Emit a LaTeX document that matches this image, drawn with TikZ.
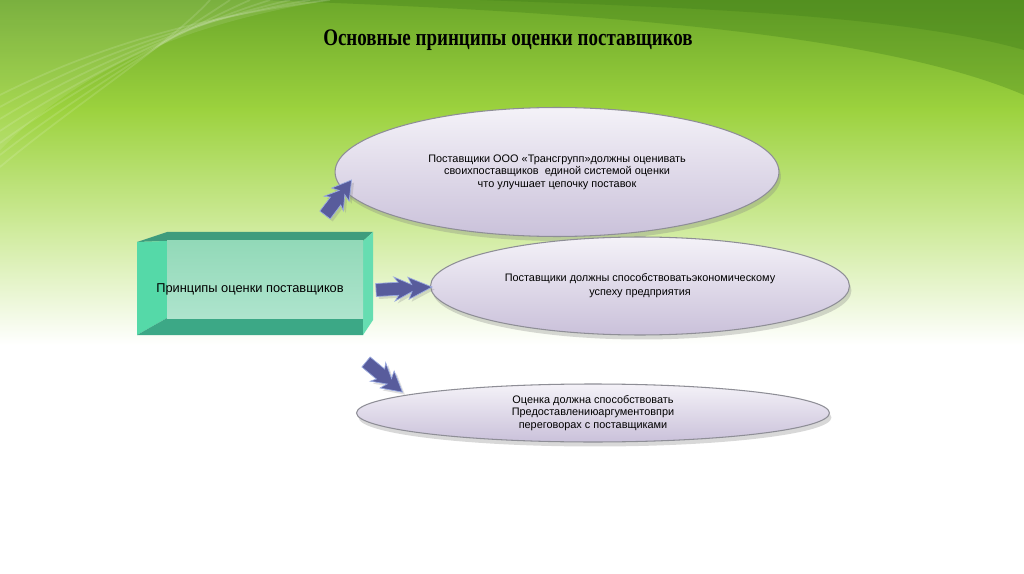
\documentclass[tikz,border=0pt]{standalone}
\usepackage{fontspec}
\setmainfont{Liberation Sans}
\newfontfamily\headfont{Liberation Serif}
\usetikzlibrary{positioning,calc,shapes.geometric,shadows}
\definecolor{trBgDark}{HTML}{3D7A18}
\definecolor{trBgDeep}{HTML}{6CA82A}
\definecolor{trBgLime}{HTML}{9CD23E}
\definecolor{trBgPale}{HTML}{CDEA98}
\definecolor{trBevTop}{HTML}{3E9C7D}
\definecolor{trBevSide}{HTML}{55D9A8}
\definecolor{trBevLow}{HTML}{3CA886}
\definecolor{trFaceTop}{HTML}{92D9B8}
\definecolor{trFaceLow}{HTML}{AEE4CD}
\definecolor{trLilacTop}{HTML}{F4F2F8}
\definecolor{trLilacLow}{HTML}{CAC1DA}
\definecolor{trRim}{HTML}{8E8E96}
\definecolor{trChev}{HTML}{585C9C}
\definecolor{trChevRim}{HTML}{9AAAE0}

\newcommand\dblchev[2]{%
  \fill[chev] ($(#1)!0.13cm!90:(#2)$) -- ($(#1)!0.4!(#2)!0.13cm!90:(#2)$)
    -- ($(#1)!0.33!(#2)!0.24cm!90:(#2)$) -- ($(#1)!0.64!(#2)!0.07cm!90:(#2)$)
    -- ($(#1)!0.58!(#2)!0.22cm!90:(#2)$) -- (#2)
    -- ($(#1)!0.58!(#2)!0.22cm!-90:(#2)$) -- ($(#1)!0.64!(#2)!0.07cm!-90:(#2)$)
    -- ($(#1)!0.33!(#2)!0.24cm!-90:(#2)$) -- ($(#1)!0.4!(#2)!0.13cm!-90:(#2)$)
    -- ($(#1)!0.13cm!-90:(#2)$) -- cycle;}

\begin{document}
\begin{tikzpicture}[x=0.02cm,y=-0.02cm,
    goal/.style={ellipse,draw=trRim,line width=0.6pt,inner sep=0pt,
                 top color=trLilacTop,bottom color=trLilacLow,align=center,
                 font=\fontsize{6.2}{7.1}\selectfont,
                 drop shadow={opacity=0.3,shadow xshift=0.4mm,shadow yshift=-0.9mm}},
    chev/.style={fill=trChev,draw=trChevRim,line width=0.4pt,line join=miter,
                 drop shadow={opacity=0.25,shadow xshift=0.5mm,shadow yshift=-0.5mm}}]
  \useasboundingbox (0,0) rectangle (1024,574);
  % background
  \fill[white] (0,0) rectangle (1024,574);
  \fill[top color=trBgDeep,bottom color=trBgLime] (0,0) rectangle (1024,110);
  \fill[top color=trBgLime,bottom color=trBgPale] (0,109) rectangle (1024,225);
  \fill[top color=trBgPale,bottom color=white] (0,224) rectangle (1024,345);
  \fill[trBgDark,opacity=0.3] (260,0) .. controls (520,10) and (860,25) .. (1024,95) -- (1024,0) -- cycle;
  \fill[trBgDark,opacity=0.3] (480,0) .. controls (700,8) and (900,15) .. (1024,50) -- (1024,0) -- cycle;
  \fill[white,opacity=0.1] (0,150) .. controls (80,70) and (180,25) .. (330,0) -- (0,0) -- cycle;
  \foreach \k in {0,...,6}
    \draw[white,opacity=0.13,line width=1pt]
      (0,95+12*\k) .. controls (70,60+8*\k) and (170,20+4*\k) .. (330-20*\k,0);

  % title
  \node (title) at (508,40) {\headfont\bfseries\fontsize{13.5}{15}\selectfont
    \scalebox{0.8}[1]{Основные принципы оценки поставщиков}};

  % bevelled box
  \fill[trBevTop] (137,242) -- (167,232) -- (373,232) -- (363,241) -- (167,241) -- cycle;
  \fill[trBevSide] (137,242) -- (167,241) -- (167,318) -- (137,335) -- cycle;
  \fill[trBevLow] (137,335) -- (167,318) -- (363,318) -- (363,335) -- cycle;
  \fill[trBevSide!90!white] (363,241) -- (373,232) -- (373,320) -- (363,335) -- cycle;
  \fill[top color=trFaceTop,bottom color=trFaceLow] (167,241) rectangle (363,318);
  \node[font=\fontsize{7.3}{9}\selectfont] (hub) at (250,289) {Принципы оценки поставщиков};

  % principles
  \node[goal,minimum width=8.88cm,minimum height=2.58cm] (p1) at (557,172)
    {Поставщики ООО «Трансгрупп»должны оценивать\\
     своихпоставщиков\ \ единой системой оценки\\
     что улучшает цепочку поставок};
  \node[goal,minimum width=8.38cm,minimum height=1.96cm] (p2) at (640,286)
    {Поставщики должны способствоватьэкономическому\\[1pt]успеху предприятия};
  \node[goal,minimum width=9.46cm,minimum height=1.16cm] (p3) at (593,413)
    {Оценка должна способствовать\\Предоставлениюаргументовпри\\переговорах с поставщиками};

  % arrows
  \coordinate (t1) at (325,215);
  \coordinate (t2) at (376,290);
  \coordinate (t3) at (366,362);
  \coordinate (h1) at ($(p1.west)+(17,8)$);
  \coordinate (h2) at ($(p2.west)+(2,1)$);
  \coordinate (h3) at ($(p3.north west)+(-23,0)$);
  \dblchev{t1}{h1}
  \dblchev{t2}{h2}
  \dblchev{t3}{h3}
\end{tikzpicture}
\end{document}
